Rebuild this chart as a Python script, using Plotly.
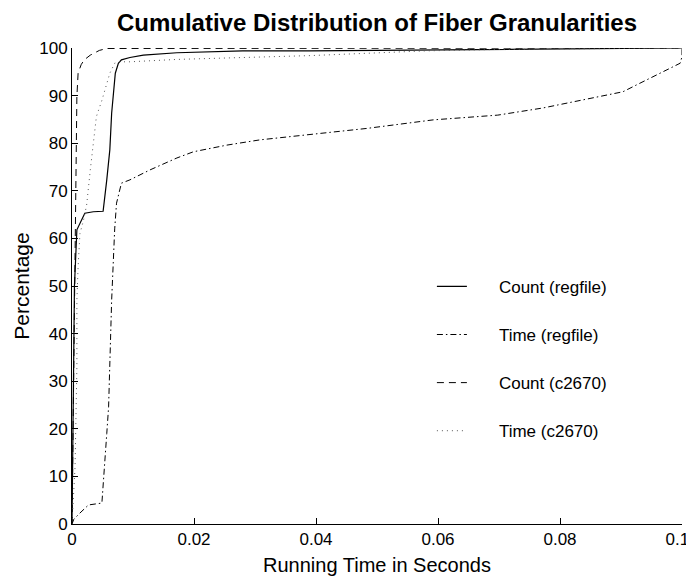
import plotly.graph_objects as go

# ---- data ----
count_reg_x = [0, 0.0002, 0.0004, 0.0008, 0.0014, 0.0021, 0.0035, 0.0051, 0.0057, 0.0062,
               0.0065, 0.0071, 0.0076, 0.0081, 0.0095, 0.0117, 0.0172, 0.028, 0.039, 0.05,
               0.07, 0.085, 0.1]
count_reg_y = [0, 30, 50, 61.8, 63.5, 65.3, 65.6, 65.7, 72.3, 78.6,
               86.3, 94.7, 96.8, 97.5, 98.0, 98.5, 99.0, 99.4, 99.4, 99.5,
               99.6, 99.8, 100]

time_reg_x = [0, 0.0003, 0.0013, 0.0027, 0.0049, 0.0051, 0.0057, 0.0060, 0.0062, 0.0065,
              0.0070, 0.0073, 0.0081, 0.0095, 0.0128, 0.0172, 0.0199, 0.0254, 0.0308, 0.0362,
              0.0483, 0.0592, 0.0698, 0.0772, 0.0833, 0.0903, 0.0931, 0.0964, 0.0997, 0.1, 0.1]
time_reg_y = [0, 1, 2.3, 4, 4.4, 8.6, 19, 24.6, 33, 47,
              62, 67.4, 71.6, 72.3, 74.4, 76.9, 78.2, 79.6, 80.7, 81.4,
              83.1, 84.9, 85.9, 87.4, 89, 90.8, 92.6, 94.7, 96.8, 98.2, 100]

count_c_x = [0, 0.0003, 0.0005, 0.0007, 0.0008, 0.001, 0.0015, 0.002, 0.003, 0.0045, 0.0057, 0.1]
count_c_y = [0, 30, 60, 82, 89.8, 94.7, 96.5, 97.5, 98.5, 99.5, 99.9, 100]

time_c_x = [0, 0.0005, 0.0008, 0.0008, 0.001, 0.0013, 0.0019, 0.0024, 0.003, 0.0035,
            0.004, 0.0049, 0.0057, 0.0062, 0.007, 0.0076, 0.0095, 0.0172, 0.028, 0.039,
            0.058, 0.07, 0.09, 0.1]
time_c_y = [0, 12, 33, 47, 54, 61, 63.9, 67, 74.4, 80.7,
            85.6, 89, 92.6, 94.7, 96.8, 97.1, 97.1, 97.6, 98.0, 98.4,
            99.4, 99.7, 99.9, 100]

series_names = ["Count (regfile)", "Time (regfile)", "Count (c2670)", "Time (c2670)"]
x_ticks = [0, 0.02, 0.04, 0.06, 0.08, 0.1]
x_tick_labels = ["0", "0.02", "0.04", "0.06", "0.08", "0.1"]
y_ticks = list(range(0, 101, 10))

FONT = "Liberation Sans, Arial, Helvetica, sans-serif"
pad = "\u00a0" * 5 + "\u2009"

# the last label sits at the window edge; trailing no-break spaces nudge it inwards
x_tick_text = x_tick_labels[:-1] + [x_tick_labels[-1] + "\u00a0\u00a0"]

fig = go.Figure()
fig.add_trace(go.Scatter(x=count_reg_x, y=count_reg_y, mode="lines", name=pad + series_names[0],
                         line=dict(color="black", width=1.2, dash="solid"), legendgroup="a"))
fig.add_trace(go.Scatter(x=time_reg_x, y=time_reg_y, mode="lines", name=pad + series_names[1],
                         line=dict(color="black", width=1, dash="6px,3px,1.5px,3px"), legendgroup="b"))
fig.add_trace(go.Scatter(x=count_c_x, y=count_c_y, mode="lines", name=pad + series_names[2],
                         line=dict(color="black", width=1, dash="7px,5px"), legendgroup="c"))
fig.add_trace(go.Scatter(x=time_c_x, y=time_c_y, mode="lines", name=pad + series_names[3],
                         line=dict(color="#555555", width=1, dash="1px,4px"), legendgroup="d"))

# page has an 8px body margin, so the figure is 686x572 placed at (8, 8)
fig.update_layout(
    width=686, height=572,
    margin=dict(l=64, r=12, t=40, b=56),
    paper_bgcolor="white", plot_bgcolor="white",
    font=dict(family=FONT, color="black", size=17),
    title=dict(text="<b>Cumulative Distribution of Fiber Granularities</b>",
               x=0.5, xref="paper", xanchor="center", y=0.9747, yanchor="middle",
               font=dict(size=24, family=FONT, color="black")),
    showlegend=True,
    legend=dict(x=0.590, y=0.536, xanchor="left", yanchor="top",
                bgcolor="rgba(0,0,0,0)", borderwidth=0,
                font=dict(size=17, family=FONT), tracegroupgap=23,
                itemwidth=30),
)
fig.update_xaxes(range=[0, 0.1], tickvals=x_ticks, ticktext=x_tick_text, automargin=False,
                 showgrid=False, zeroline=False, showline=True, linecolor="black", linewidth=1,
                 ticks="inside", ticklen=6, tickcolor="black", mirror=False,
                 ticklabeloverflow="allow",
                 title=dict(text="Running Time in Seconds", font=dict(size=20, family=FONT), standoff=9),
                 tickfont=dict(size=17, family=FONT))
fig.update_yaxes(range=[0, 100], tickvals=y_ticks, automargin=False,
                 showgrid=False, zeroline=False, showline=True, linecolor="black", linewidth=1,
                 ticks="inside", ticklen=6, tickcolor="black", mirror=False,
                 title=dict(text="Percentage", font=dict(size=21, family=FONT), standoff=3),
                 tickfont=dict(size=17, family=FONT))

fig.write_html("out.html")
